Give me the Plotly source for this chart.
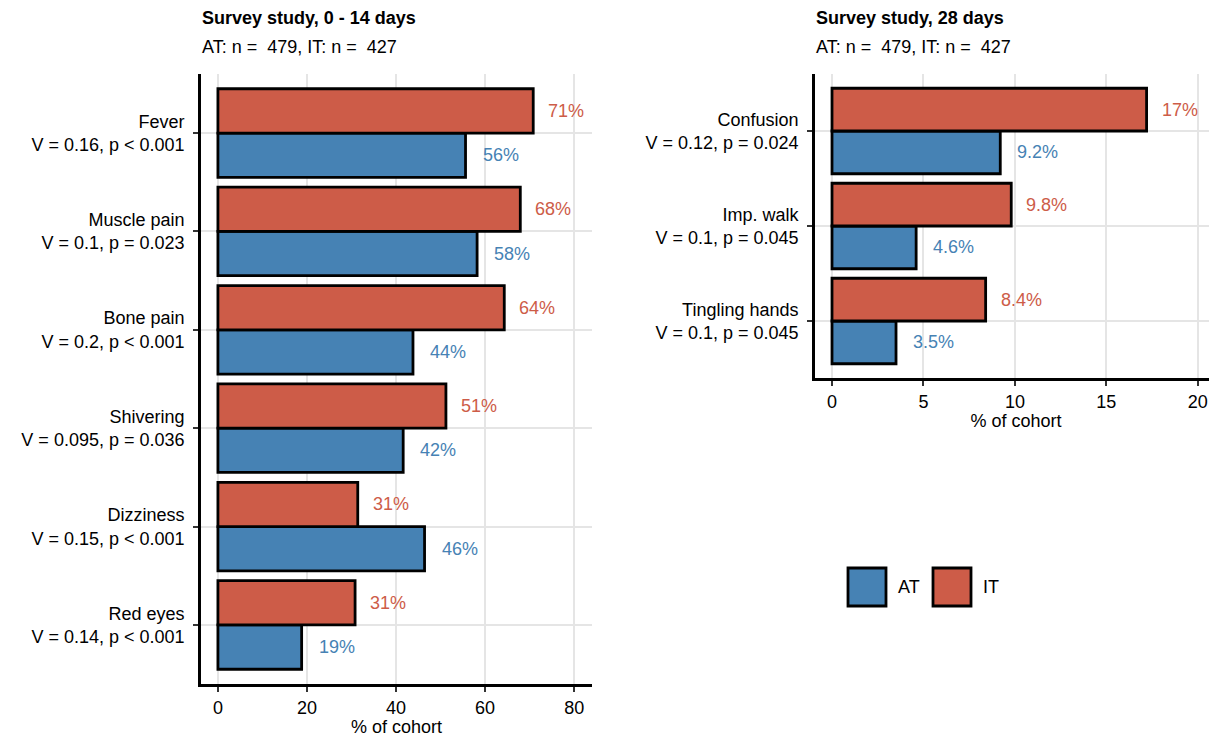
import plotly.graph_objects as go

# ---- data ----
cats_left = ["Fever", "Muscle pain", "Bone pain", "Shivering", "Dizziness", "Red eyes"]
stats_left = ["V = 0.16, p &lt; 0.001", "V = 0.1, p = 0.023", "V = 0.2, p &lt; 0.001",
              "V = 0.095, p = 0.036", "V = 0.15, p &lt; 0.001", "V = 0.14, p &lt; 0.001"]
it_left = [70.8, 67.9, 64.3, 51.2, 31.4, 30.8]
at_left = [55.6, 58.2, 43.8, 41.6, 46.4, 18.8]
it_left_lbl = ["71%", "68%", "64%", "51%", "31%", "31%"]
at_left_lbl = ["56%", "58%", "44%", "42%", "46%", "19%"]

cats_right = ["Confusion", "Imp. walk", "Tingling hands"]
stats_right = ["V = 0.12, p = 0.024", "V = 0.1, p = 0.045", "V = 0.1, p = 0.045"]
it_right = [17.2, 9.8, 8.4]
at_right = [9.2, 4.6, 3.5]
it_right_lbl = ["17%", "9.8%", "8.4%"]
at_right_lbl = ["9.2%", "4.6%", "3.5%"]

title_left = "Survey study, 0 - 14 days"
title_right = "Survey study, 28 days"
subtitle = "AT: n =  479, IT: n =  427"
x_ticks_left = [0, 20, 40, 60, 80]
x_ticks_right = [0, 5, 10, 15, 20]

C_AT = "#4682B4"
C_IT = "#CD5C48"
FONT = "Liberation Sans, Arial, sans-serif"
FS = 18
# page body has an 8px margin; the figure is sized to fill the rest of the window
OFF = 8
W, H = 1217 - OFF, 740 - OFF


def px(x):
    return (x - OFF) / W


def py(y):
    return (H - (y - OFF)) / H


labels_left = [f"{c}<br>{s}" for c, s in zip(cats_left, stats_left)]
labels_right = [f"{c}<br>{s}" for c, s in zip(cats_right, stats_right)]

fig = go.Figure()


def add_panel(labels, at_vals, it_vals, at_lbl, it_lbl, xa, ya):
    fig.add_trace(go.Bar(y=labels, x=at_vals, orientation="h", name="AT",
                         marker=dict(color=C_AT, line=dict(color="black", width=2.8)),
                         xaxis=xa, yaxis=ya, showlegend=False, offsetgroup="AT"))
    fig.add_trace(go.Bar(y=labels, x=it_vals, orientation="h", name="IT",
                         marker=dict(color=C_IT, line=dict(color="black", width=2.8)),
                         xaxis=xa, yaxis=ya, showlegend=False, offsetgroup="IT"))
    n = len(labels)
    for i, lab in enumerate(labels):
        pos = n - 1 - i
        fig.add_annotation(x=at_vals[i], y=pos - 0.225, xref=xa, yref=ya, text=at_lbl[i],
                           showarrow=False, xanchor="left", xshift=15,
                           font=dict(family=FONT, size=FS, color=C_AT))
        fig.add_annotation(x=it_vals[i], y=pos + 0.225, xref=xa, yref=ya, text=it_lbl[i],
                           showarrow=False, xanchor="left", xshift=13,
                           font=dict(family=FONT, size=FS, color=C_IT))


add_panel(labels_left, at_left, it_left, at_left_lbl, it_left_lbl, "x", "y")
add_panel(labels_right, at_right, it_right, at_right_lbl, it_right_lbl, "x2", "y2")

axis_common = dict(showline=True, linecolor="black", linewidth=2.8, ticks="outside",
                   ticklen=5, tickwidth=2.2, tickcolor="#333333", showgrid=True,
                   gridcolor="#E5E5E5", gridwidth=2.2, zeroline=False,
                   tickfont=dict(family=FONT, size=FS, color="black"))

fig.update_layout(
    width=W, height=H, margin=dict(l=0, r=0, t=0, b=0),
    plot_bgcolor="white", paper_bgcolor="white",
    barmode="group", bargap=0.1, bargroupgap=0,
    xaxis=dict(domain=[px(201), px(592)], range=[-3.8, 84], tickvals=x_ticks_left,
               title=dict(text="% of cohort", font=dict(family=FONT, size=FS), standoff=2),
               anchor="y", **axis_common),
    yaxis=dict(domain=[py(684), py(74)], range=[-0.6, 5.6], type="category",
               categoryorder="array", categoryarray=labels_left[::-1], anchor="x",
               ticklabelstandoff=5, **axis_common),
    xaxis2=dict(domain=[px(815), 1.0], range=[-0.93, 21.05], tickvals=x_ticks_right,
                title=dict(text="% of cohort", font=dict(family=FONT, size=FS), standoff=2),
                anchor="y2", **axis_common),
    yaxis2=dict(domain=[py(378), py(74)], range=[-0.6, 2.6], type="category",
                categoryorder="array", categoryarray=labels_right[::-1], anchor="x2",
                ticklabelstandoff=5, **axis_common),
    font=dict(family=FONT, color="black"),
)

# panel titles
for xp, t in [(201, title_left), (815, title_right)]:
    fig.add_annotation(x=px(xp), y=py(18), xref="paper", yref="paper", text=f"<b>{t}</b>",
                       showarrow=False, xanchor="left", yanchor="middle", xshift=-1,
                       font=dict(family=FONT, size=FS, color="black"))
    fig.add_annotation(x=px(xp), y=py(47), xref="paper", yref="paper", text=subtitle,
                       showarrow=False, xanchor="left", yanchor="middle", xshift=-1,
                       font=dict(family=FONT, size=FS, color="black"))

# legend keys
for x0, col, name in [(848, C_AT, "AT"), (933, C_IT, "IT")]:
    fig.add_shape(type="rect", xref="paper", yref="paper",
                  x0=px(x0), x1=px(x0 + 38), y0=py(606), y1=py(568),
                  fillcolor=col, line=dict(color="black", width=2.8))
    fig.add_annotation(x=px(x0 + 48), y=py(587), xref="paper", yref="paper",
                       text=name, showarrow=False, xanchor="left", yanchor="middle",
                       font=dict(family=FONT, size=FS, color="black"))

fig.write_html("out.html")
